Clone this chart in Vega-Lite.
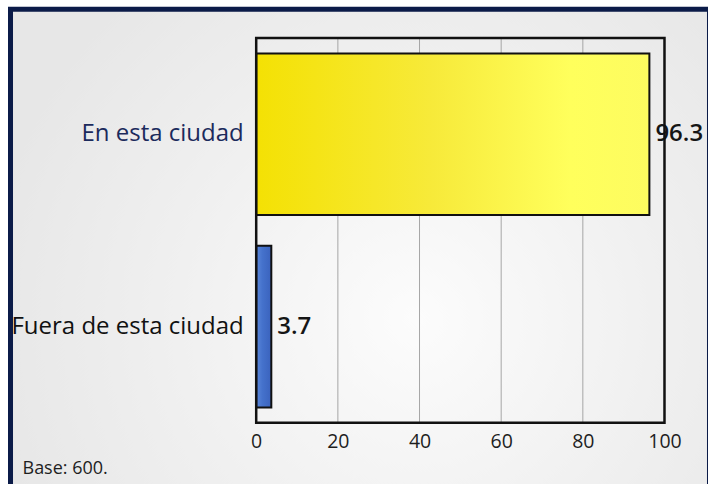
{
  "$schema": "https://vega.github.io/schema/vega-lite/v6.json",
  "width": 699,
  "height": 479,
  "autosize": {"type": "none"},
  "padding": {"left": 10.5, "top": 9.2, "right": 0, "bottom": 0},
  "background": "#ffffff",
  "view": {
    "fill": {"gradient": "radial", "x1": 0.58, "y1": 0.6, "r1": 0, "x2": 0.58, "y2": 0.6, "r2": 0.62,
      "stops": [{"offset": 0, "color": "#fcfcfc"}, {"offset": 0.55, "color": "#f0f0f0"}, {"offset": 1, "color": "#e7e7e7"}]},
    "stroke": "#0b1b48",
    "strokeWidth": 5
  },
  "data": {"values": [
    {"cat": "En esta ciudad", "v": 96.3},
    {"cat": "Fuera de esta ciudad", "v": 3.7}
  ]},
  "layer": [
    {
      "data": {"values": [{"g": 20}, {"g": 40}, {"g": 60}, {"g": 80}]},
      "mark": {"type": "rule", "color": "#a6a6a6", "strokeWidth": 1},
      "encoding": {
        "x": {"field": "g", "type": "quantitative", "title": "Base: 600.", "axis": {"values": [0, 20, 40, 60, 80, 100]}, "scale": {"domain": [0, 100], "range": [245.7, 654], "nice": false}},
        "y": {"datum": 0, "type": "quantitative", "axis": null, "scale": {"domain": [0, 1], "range": [28.8, 413.6], "nice": false, "zero": false}},
        "y2": {"datum": 1}
      }
    },
    {
      "layer": [
        {
          "transform": [{"filter": "datum.cat == 'En esta ciudad'"}],
          "mark": {"type": "bar", "stroke": "#111111", "strokeWidth": 2,
            "fill": {"gradient": "linear", "x1": 0, "y1": 0, "x2": 1, "y2": 0,
              "stops": [{"offset": 0, "color": "#f4e104"}, {"offset": 0.45, "color": "#f7ea3a"}, {"offset": 0.8, "color": "#ffff5c"}, {"offset": 1, "color": "#fdfc60"}]}},
          "encoding": {
            "x": {"field": "v", "type": "quantitative", "title": "Base: 600.", "axis": {"values": [0, 20, 40, 60, 80, 100]}, "scale": {"domain": [0, 100], "range": [245.7, 654], "nice": false}},
            "y": {"field": "cat", "type": "nominal", "title": null,
              "scale": {"domain": ["En esta ciudad", "Fuera de esta ciudad"], "range": [28.8, 413.6], "paddingInner": 0.16, "paddingOuter": 0.08}}
          }
        },
        {
          "transform": [{"filter": "datum.cat == 'Fuera de esta ciudad'"}],
          "mark": {"type": "bar", "stroke": "#111111", "strokeWidth": 2,
            "fill": {"gradient": "linear", "x1": 0, "y1": 0, "x2": 1, "y2": 0,
              "stops": [{"offset": 0, "color": "#5c88da"}, {"offset": 0.4, "color": "#4572cc"}, {"offset": 1, "color": "#3a62bd"}]}},
          "encoding": {
            "x": {"field": "v", "type": "quantitative", "title": "Base: 600.", "axis": {"values": [0, 20, 40, 60, 80, 100]}},
            "y": {"field": "cat", "type": "nominal", "title": null}
          }
        },
        {
          "mark": {"type": "text", "align": "left", "baseline": "middle", "dx": 6, "fontSize": 24, "fontWeight": 600, "color": "#151515", "font": "Open Sans"},
          "encoding": {
            "x": {"field": "v", "type": "quantitative", "title": "Base: 600.", "axis": {"values": [0, 20, 40, 60, 80, 100]}},
            "y": {"field": "cat", "type": "nominal", "title": null},
            "text": {"field": "v", "type": "quantitative", "format": ".1f"}
          }
        }
      ]
    },
    {
      "data": {"values": [{"f": 1}]},
      "mark": {"type": "rect", "fill": null, "stroke": "#111111", "strokeWidth": 2.5},
      "encoding": {
        "x": {"datum": 0, "type": "quantitative", "title": "Base: 600.", "axis": {"values": [0, 20, 40, 60, 80, 100]}},
        "x2": {"datum": 100},
        "y": {"datum": 0, "type": "quantitative", "axis": null, "scale": {"domain": [0, 1], "range": [28.8, 413.6], "nice": false, "zero": false}},
        "y2": {"datum": 1}
      }
    }
  ],
  "resolve": {"scale": {"y": "independent"}, "axis": {"y": "independent"}},
  "config": {
    "font": "Open Sans",
    "axisX": {
      "orient": "bottom",
      "offset": -65.4,
      "domain": false,
      "ticks": false,
      "grid": false,
      "labelFontSize": 19.5,
      "labelColor": "#1e1e1e",
      "labelPadding": 10,
      "labelFlush": false,
      "titleAnchor": "start",
      "titleAlign": "left",
      "titleX": 11.5,
      "titleY": 50.5,
      "titleBaseline": "alphabetic",
      "titleFontSize": 18,
      "titleFontWeight": "normal",
      "titleColor": "#1e1e1e"
    },
    "axisY": {
      "offset": -245.7,
      "domain": false,
      "ticks": false,
      "grid": false,
      "labelFontSize": 24,
      "labelPadding": 13,
      "labelLimit": 400,
      "labelColor": {"expr": "datum.value == 'En esta ciudad' ? '#1b2a5c' : '#111111'"}
    }
  }
}
